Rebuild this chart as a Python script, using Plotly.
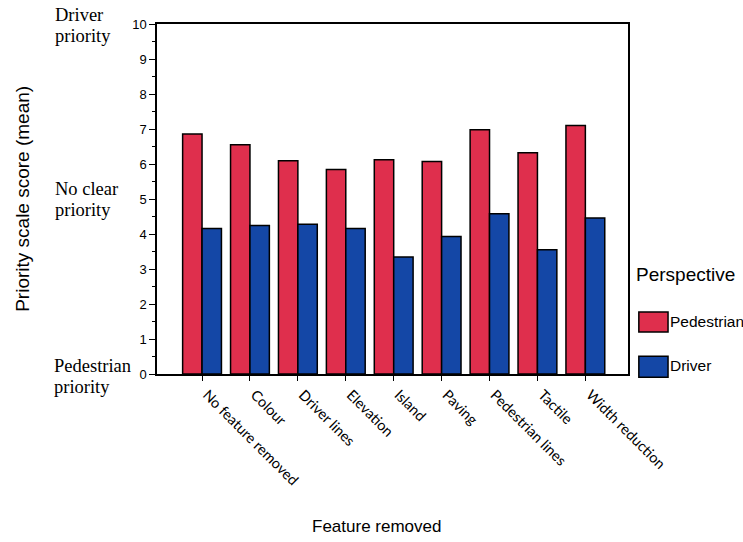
import plotly.graph_objects as go

categories = ["No feature removed", "Colour", "Driver lines", "Elevation", "Island",
              "Paving", "Pedestrian lines", "Tactile", "Width reduction"]
pedestrian = [6.86, 6.55, 6.09, 5.84, 6.12, 6.07, 6.98, 6.32, 7.10]
driver = [4.16, 4.24, 4.28, 4.16, 3.34, 3.93, 4.58, 3.55, 4.46]
series_names = ["Pedestrian", "Driver"]
y_ticks = list(range(0, 11))

RED = "#DF2F4D"
BLUE = "#1447A6"
SERIF = "Liberation Serif, Times New Roman, serif"
SANS = "Liberation Sans, Arial, sans-serif"

fig = go.Figure()
fig.add_trace(go.Bar(x=categories, y=pedestrian, name=series_names[0],
                     marker=dict(color=RED, line=dict(color="black", width=1.5)),
                     showlegend=False))
fig.add_trace(go.Bar(x=categories, y=driver, name=series_names[1],
                     marker=dict(color=BLUE, line=dict(color="black", width=1.5)),
                     showlegend=False))

fig.update_layout(
    width=743, height=542,
    margin=dict(l=157, r=115, t=24, b=168),
    paper_bgcolor="white", plot_bgcolor="white",
    barmode="group", bargap=0.19, bargroupgap=0,
    font=dict(family=SANS, color="black"),
)
fig.update_xaxes(
    type="category", range=[-0.94, 8.89],
    showline=True, linecolor="black", linewidth=1.5, mirror=True,
    ticks="outside", ticklen=5, tickwidth=1.2, tickcolor="black",
    tickangle=45, tickfont=dict(family="Lato, DejaVu Sans, sans-serif", size=14.5),
    ticklabelshift=5,
    showgrid=False, zeroline=False,
)
fig.update_yaxes(
    range=[0, 10], tickvals=y_ticks, ticktext=[str(v) for v in y_ticks],
    showline=True, linecolor="black", linewidth=1.5, mirror=True,
    ticks="outside", ticklen=6, tickwidth=1.2, tickcolor="black",
    minor=dict(dtick=0.5, ticks="outside", ticklen=3, tickcolor="black", tickwidth=1),
    tickfont=dict(family=SANS, size=13),
    showgrid=False, zeroline=False,
)

ann = []
def txt(x, y, s, size, family, xanchor="left", yanchor="middle", angle=0):
    ann.append(dict(x=x, y=y, xref="paper", yref="paper", text=s, showarrow=False,
                    xanchor=xanchor, yanchor=yanchor, textangle=angle,
                    font=dict(family=family, size=size, color="black")))

# left side priority labels
txt(-0.221, 1.026, "Driver", 18.5, SERIF)
txt(-0.221, 0.967, "priority", 18.5, SERIF)
txt(-0.221, 0.529, "No clear", 18.5, SERIF)
txt(-0.221, 0.470, "priority", 18.5, SERIF)
txt(-0.223, 0.023, "Pedestrian", 18.5, SERIF)
txt(-0.223, -0.036, "priority", 18.5, SERIF)
# axis titles
txt(-0.287, 0.5, "Priority scale score (mean)", 19, SANS, xanchor="center", angle=-90)
txt(0.467, -0.437, "Feature removed", 17, SANS, xanchor="center")
# legend
txt(1.013, 0.283, "Perspective", 19, SANS)
txt(1.085, 0.149, series_names[0], 15.5, SANS)
txt(1.085, 0.023, series_names[1], 15.5, SANS)
fig.update_layout(annotations=ann)

fig.add_shape(type="rect", xref="paper", yref="paper", x0=1.023, x1=1.085, y0=0.12, y1=0.177,
              fillcolor=RED, line=dict(color="black", width=1.5))
fig.add_shape(type="rect", xref="paper", yref="paper", x0=1.023, x1=1.085, y0=-0.009, y1=0.051,
              fillcolor=BLUE, line=dict(color="black", width=1.5))

fig.write_html("out.html", config={"displayModeBar": False},
               post_script="document.body.style.margin='0px';")
